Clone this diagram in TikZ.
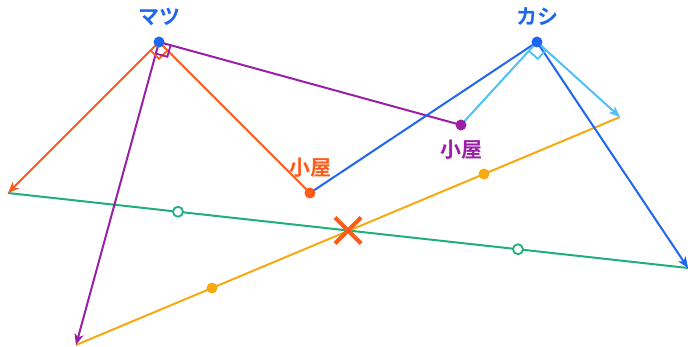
\documentclass[tikz,border=0pt]{standalone}
\usepackage{fontspec}
\newfontfamily\cjk{Noto Sans CJK JP}[BoldFont={Noto Sans CJK JP Bold}]
\usetikzlibrary{arrows.meta,calc}
\definecolor{cblue}{HTML}{1E66F0}
\definecolor{clblue}{HTML}{4FC0F5}
\definecolor{corange}{HTML}{FF5A1A}
\definecolor{cpurple}{HTML}{9A1FA6}
\definecolor{cgreen}{HTML}{1FB07A}
\definecolor{cyellow}{HTML}{F7AA10}
\tikzset{
  ln/.style={line width=2pt},
  arr/.style={ln,-{Stealth[length=11pt,width=9pt,inset=3pt]}},
  dot/.style={circle,fill=#1,inner sep=0pt,minimum size=11pt},
  odot/.style={circle,draw=#1,fill=white,line width=1.8pt,inner sep=0pt,minimum size=10pt},
  lbl/.style={text=#1,font=\cjk\bfseries\fontsize{21}{23}\selectfont,inner sep=0pt},
  ra/.style={line width=1.8pt,draw=#1}
}
\begin{document}
\begin{tikzpicture}[x=1pt,y=-1pt]
\useasboundingbox (0,0) rectangle (688,347);
% key points
\coordinate (M) at (159,42);
\coordinate (K) at (537,42);
\coordinate (H1) at (310,193);
\coordinate (H2) at (461,125);
\coordinate (A) at (8,193);
\coordinate (B) at (76,345);
\coordinate (C) at (620,117);
\coordinate (D) at (688,268);
\coordinate (X) at ($(A)!0.5!(D)$);
% green and yellow lines
\draw[ln,draw=cgreen] (A) -- (D);
\draw[ln,draw=cyellow] (B) -- (C);
% from M
\draw[ln,draw=corange] (M) -- (H1);
\draw[arr,draw=corange] (M) -- (A);
\draw[ln,draw=cpurple] (M) -- (H2);
\draw[arr,draw=cpurple] (M) -- (B);
% from K
\draw[ln,draw=cblue] (K) -- (H1);
\draw[arr,draw=cblue] (K) -- (D);
\draw[ln,draw=clblue] (K) -- (H2);
\draw[arr,draw=clblue] (K) -- (C);
% right angle marks
\draw[ra=corange] ($(M)!12pt!(A)$) -- ($(M)!12pt!(A)+(M)!12pt!(H1)-(M)$) -- ($(M)!12pt!(H1)$);
\draw[ra=cpurple] ($(M)!12pt!(H2)$) -- ($(M)!12pt!(H2)+(M)!12pt!(B)-(M)$) -- ($(M)!12pt!(B)$);
\draw[ra=clblue] ($(K)!12pt!(H2)$) -- ($(K)!12pt!(H2)+(K)!12pt!(C)-(K)$) -- ($(K)!12pt!(C)$);
% midpoints
\node[odot=cgreen] (g1) at ($(A)!0.25!(D)$) {};
\node[odot=cgreen] (g2) at ($(A)!0.75!(D)$) {};
\node[dot=cyellow] (y1) at ($(B)!0.25!(C)$) {};
\node[dot=cyellow] (y2) at ($(B)!0.75!(C)$) {};
% dots
\node[dot=cblue] (m) at (M) {};
\node[dot=cblue] (k) at (K) {};
\node[dot=corange] (h1) at (H1) {};
\node[dot=cpurple] (h2) at (H2) {};
% labels
\node[lbl=cblue] (lm) at (159,17) {マツ};
\node[lbl=cblue] (lk) at (537,17) {カシ};
\node[lbl=corange] (lh1) at (310,168) {小屋};
\node[lbl=cpurple] (lh2) at (461,150) {小屋};
% treasure
\draw[line width=4pt,draw=corange] ($(X)+(-13,-13)$) -- ($(X)+(13,13)$);
\draw[line width=4pt,draw=corange] ($(X)+(-13,13)$) -- ($(X)+(13,-13)$);
\end{tikzpicture}
\end{document}
